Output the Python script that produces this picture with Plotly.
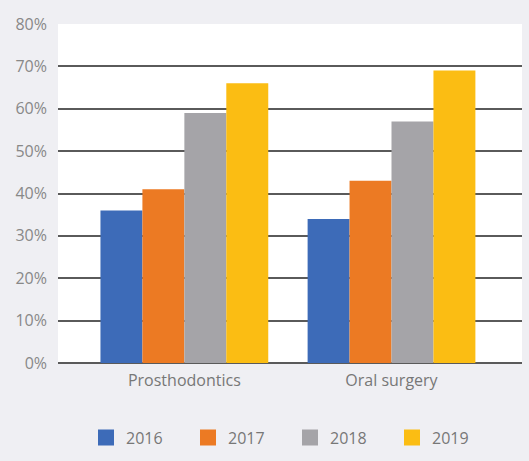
import plotly.graph_objects as go

categories = ["Prosthodontics", "Oral surgery"]
years = ["2016", "2017", "2018", "2019"]
values_2016 = [36, 34]
values_2017 = [41, 43]
values_2018 = [59, 57]
values_2019 = [66, 69]
series = [values_2016, values_2017, values_2018, values_2019]
colors = ["#3d6bb8", "#ec7a23", "#a5a4a8", "#fbbd13"]
y_ticks = [0, 10, 20, 30, 40, 50, 60, 70, 80]
y_tick_labels = [f"{t}%" for t in y_ticks]

fig = go.Figure()
for name, vals, col in zip(years, series, colors):
    fig.add_trace(go.Bar(x=categories, y=vals, name=name, marker_color=col,
                         marker_line_width=0, showlegend=False))
for name, col in zip(years, colors):
    fig.add_trace(go.Scatter(x=[None], y=[None], mode="markers", name=name,
                             marker=dict(symbol="square", size=16, color=col)))

fig.update_layout(
    width=529, height=461,
    margin=dict(l=58, r=7, t=24, b=96),
    paper_bgcolor="#efeff3",
    plot_bgcolor="#ffffff",
    barmode="group",
    bargap=0.19,
    bargroupgap=0,
    font=dict(family="Open Sans, Noto Sans, sans-serif", color="#7a7a7a", size=15),
    xaxis=dict(range=[-0.61, 1.63], showgrid=False, zeroline=False, showline=False,
               ticks="", ticklabelstandoff=6, tickfont=dict(size=16, color="#777777")),
    yaxis=dict(range=[0, 80], tickvals=y_ticks, ticktext=y_tick_labels,
               showgrid=True, gridcolor="#5a5a5a", gridwidth=1.5,
               zeroline=True, zerolinecolor="#5a5a5a", zerolinewidth=1.5,
               showline=False, ticks="", ticklabelstandoff=10,
               tickfont=dict(size=16, color="#888888")),
    legend=dict(orientation="h", x=0.5, xanchor="center", y=-0.22, yanchor="middle",
                entrywidth=57, font=dict(size=16, color="#777777"),
                bgcolor="rgba(0,0,0,0)"),
)

fig.write_html(
    "out.html",
    config={"displayModeBar": False},
    post_script="document.body.style.margin='0';document.body.style.background='#efeff3';",
)
